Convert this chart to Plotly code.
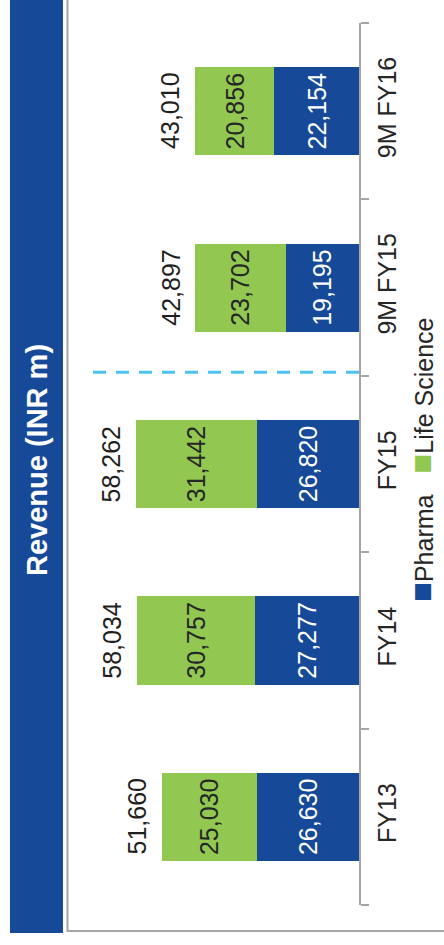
import plotly.graph_objects as go

# Revenue split by segment (INR m)
categories = ["FY13", "FY14", "FY15", "9M FY15", "9M FY16"]
pharma = [26630, 27277, 26820, 19195, 22154]
life_science = [25030, 30757, 31442, 23702, 20856]
totals = [p + l for p, l in zip(pharma, life_science)]

series_names = ["Pharma", "Life Science"]
title_text = "Revenue (INR m)"

BLUE = "#164a98"
GREEN = "#92c851"
GREY = "#a6a6a6"
DASH = "#4cc3ee"
FONT = "Liberation Sans"
FS = 25

W, H = 444, 945
ML, MR, MT, MB = 70, 85, 23, 40
PW, PH = W - ML - MR, H - MT - MB


def px_x(p):
    """pixel column -> paper x"""
    return (p - ML) / PW


def px_y(p):
    """pixel row -> paper y"""
    return (H - MB - p) / PH


fig = go.Figure()
fig.add_trace(go.Bar(
    y=categories, x=pharma, name=series_names[0], orientation="h",
    marker=dict(color=BLUE, line=dict(width=0)), width=0.5,
    text=[f"{v:,}" for v in pharma], textposition="inside",
    insidetextanchor="middle", textangle=-90, constraintext="none",
    textfont=dict(family=FONT, size=FS, color="white"),
))
fig.add_trace(go.Bar(
    y=categories, x=life_science, name=series_names[1], orientation="h",
    marker=dict(color=GREEN, line=dict(width=0)), width=0.5,
    text=[f"{v:,}" for v in life_science], textposition="inside",
    insidetextanchor="middle", textangle=-90, constraintext="none",
    textfont=dict(family=FONT, size=FS, color="#262626"),
))

annotations = []
# totals beyond each stacked bar
for c, t in zip(categories, totals):
    annotations.append(dict(
        x=t, y=c, xref="x", yref="y", text=f"{t:,}", showarrow=False,
        textangle=-90, xanchor="center", yanchor="middle", xshift=-25,
        font=dict(family=FONT, size=FS, color="#1f1f1f"),
    ))

# title inside the side band
annotations.append(dict(
    x=px_x(37), y=px_y(460), xref="paper", yref="paper", text=f"<b>{title_text}</b>",
    showarrow=False, textangle=-90, xanchor="center", yanchor="middle",
    font=dict(family=FONT, size=29, color="white"),
))

# legend drawn as rotated text with coloured squares
sp = "\u00a0"
sq = "<span style='color:{};font-size:33px'>■</span>"
legend_text = (f"{sq.format(BLUE)}{series_names[0]}{sp*3}"
               f"{sq.format(GREEN)}{series_names[1]}")
annotations.append(dict(
    x=px_x(421), y=px_y(460), xref="paper", yref="paper", text=legend_text,
    showarrow=False, textangle=-90, xanchor="center", yanchor="middle",
    font=dict(family=FONT, size=25, color="#262626"),
))

shapes = [
    # side band behind the title
    dict(type="rect", xref="paper", yref="paper",
         x0=px_x(10), x1=px_x(63), y0=px_y(933), y1=px_y(-10),
         fillcolor=BLUE, line=dict(width=0), layer="below"),
    # panel frame
    dict(type="rect", xref="paper", yref="paper",
         x0=px_x(67.5), x1=px_x(470), y0=px_y(931), y1=px_y(-10),
         fillcolor="rgba(0,0,0,0)", line=dict(color=GREY, width=2), layer="below"),
    # separator between full-year and nine-month periods
    dict(type="line", xref="x", yref="y", x0=0, x1=70700, y0=2.52, y1=2.52,
         line=dict(color=DASH, width=3, dash="13px,10px")),
]

fig.update_layout(
    width=W, height=H, barmode="stack", showlegend=False,
    margin=dict(l=ML, r=MR, t=MT, b=MB, pad=0),
    paper_bgcolor="white", plot_bgcolor="white",
    annotations=annotations, shapes=shapes, hovermode=False,
    font=dict(family=FONT),
)
fig.update_xaxes(range=[289 / 0.00382, 0], visible=False, fixedrange=True)
fig.update_yaxes(
    type="category", categoryorder="array", categoryarray=categories,
    range=[-0.5, len(categories) - 0.5], side="right",
    showline=True, linecolor=GREY, linewidth=2,
    ticks="outside", ticklen=8, tickwidth=2, tickcolor=GREY, tickson="boundaries",
    tickangle=-90, ticklabelstandoff=5,
    tickfont=dict(family=FONT, size=FS, color="#262626"),
    showgrid=False, zeroline=False, fixedrange=True,
)

fig.write_html("out.html")
